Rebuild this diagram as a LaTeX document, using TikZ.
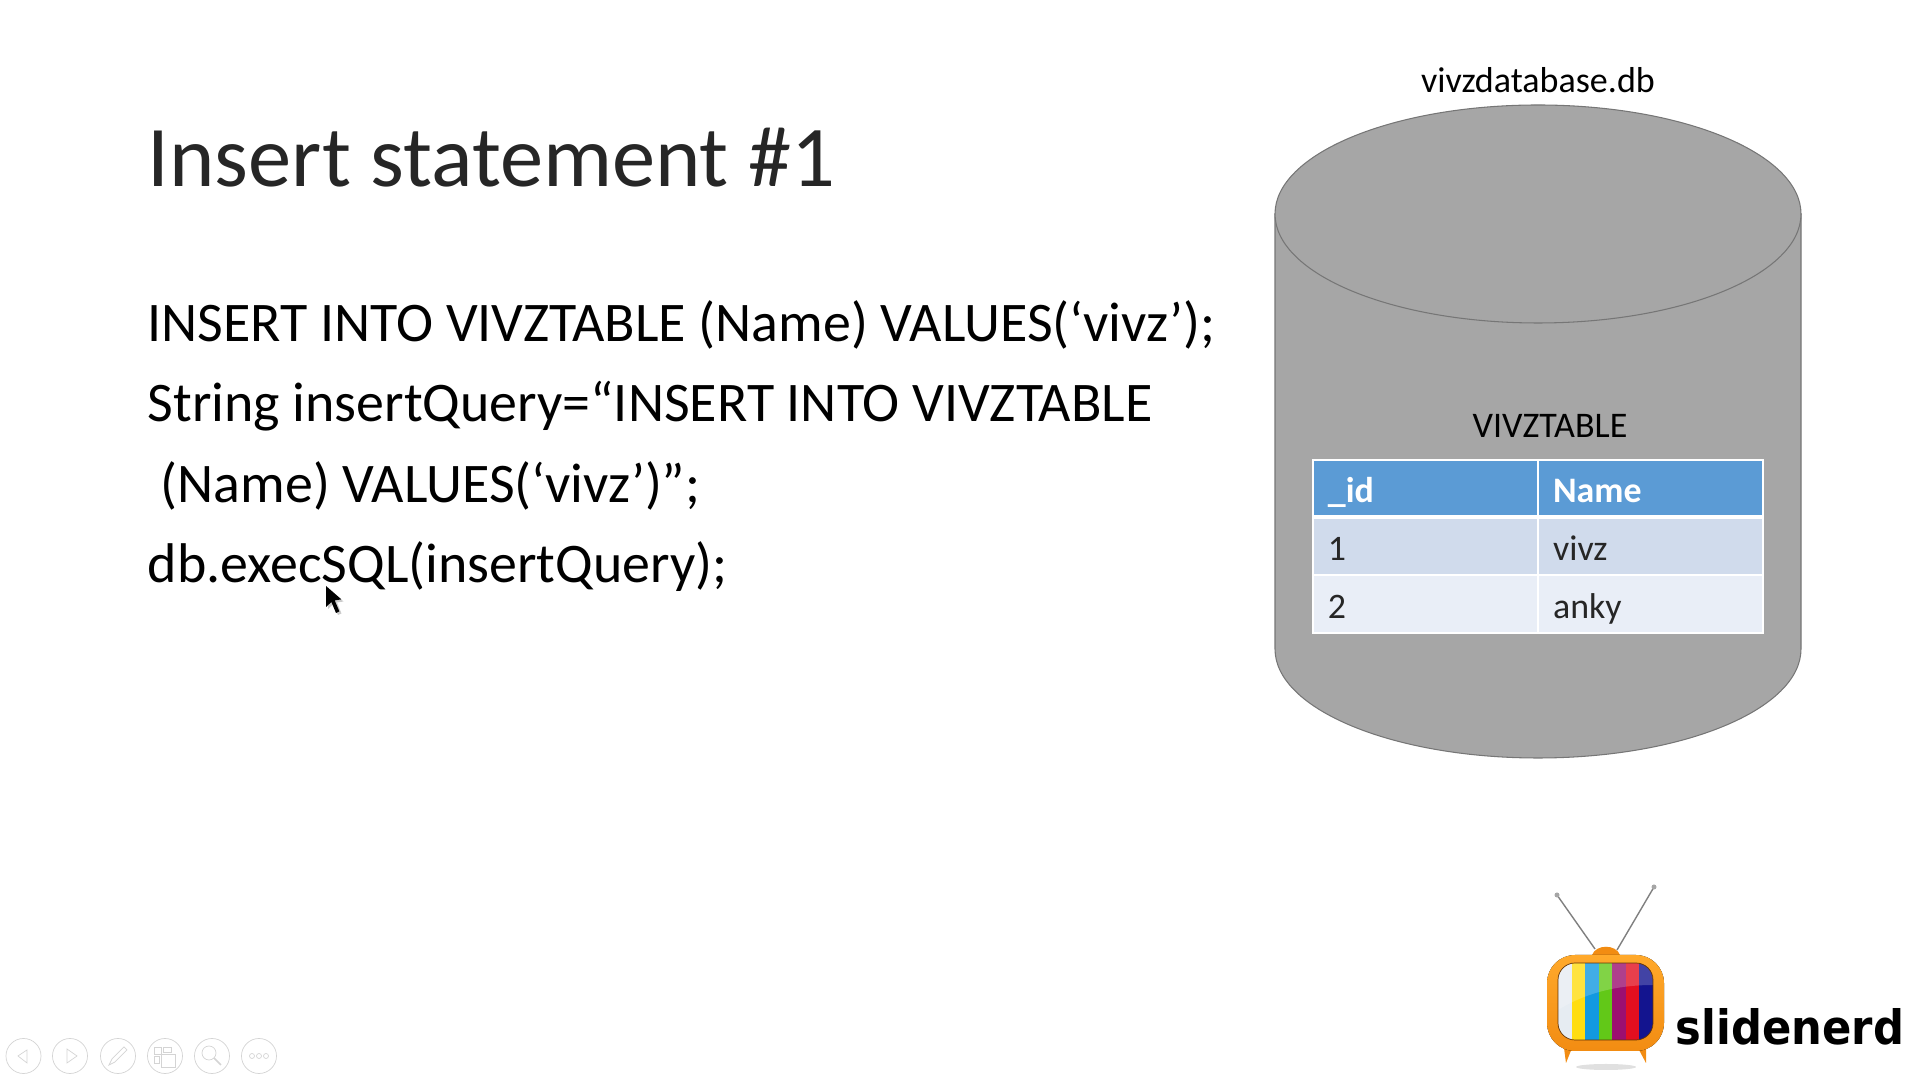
\documentclass[tikz,border=0pt]{standalone}
\usepackage{fontspec}
\setmainfont{Carlito}
\newfontfamily\brandfont{DejaVu Sans}
\definecolor{dbgray}{HTML}{A6A6A6}
\definecolor{dbedge}{HTML}{767676}
\definecolor{headblue}{HTML}{5B9BD5}
\definecolor{rowdark}{HTML}{D0DBEC}
\definecolor{rowlight}{HTML}{E9EEF7}
\definecolor{navgray}{HTML}{D4D4D4}
\definecolor{tvorange}{HTML}{F28C12}
\definecolor{tvtop}{HTML}{FFA92B}
\definecolor{barwhite}{HTML}{E6ECF2}
\definecolor{baryellow}{HTML}{FFDD10}
\definecolor{barblue}{HTML}{1299E0}
\definecolor{bargreen}{HTML}{62C818}
\definecolor{barpurple}{HTML}{9C0F70}
\definecolor{barred}{HTML}{E30F20}
\definecolor{barnavy}{HTML}{13148F}
\begin{document}
\begin{tikzpicture}[
    x=0.01cm, y=-0.01cm,
    title/.style={anchor=base west, inner sep=0pt, text=black!85, font=\fontsize{24.6}{28}\selectfont},
    code/.style={anchor=base west, inner sep=0pt, font=\fontsize{15.9}{19}\selectfont},
    label/.style={inner sep=0pt, font=\fontsize{10.25}{12}\selectfont},
    cell/.style={draw=white, line width=0.5pt, inner sep=0pt, minimum width=2.25cm, minimum height=0.575cm, text width=1.95cm, text height=0.35cm, text depth=0.07cm, align=left, font=\fontsize{10.2}{12}\selectfont, text=black!85},
    headcell/.style={cell, fill=headblue, text=white, font=\fontsize{10.2}{12}\selectfont\bfseries},
    darkcell/.style={cell, fill=rowdark},
    lightcell/.style={cell, fill=rowlight},
    navbutton/.style={circle, draw=navgray, line width=0.2pt, inner sep=0pt, minimum size=0.35cm},
    navicon/.style={draw=navgray, line width=0.2pt},
    stripe/.style={draw=none}
]

    \useasboundingbox (0,0) rectangle (1920,1080);

    % Title
    \node (heading) [title] at (147,187) {Insert statement \#1};

    % Code lines
    \node (lineone) [code] at (147,342) {INSERT INTO VIVZTABLE (Name) VALUES(‘vivz’);};
    \node (linetwo) [code] at (147,422) {String insertQuery=“INSERT INTO VIVZTABLE};
    \node (linethree) [code] at (160,503) {(Name) VALUES(‘vivz’)”;};
    \node (linefour) [code] at (147,583) {db.execSQL(insertQuery);};

    % Mouse cursor
    \fill [black!20] (328,588) -- (328,609) -- (333.5,604) -- (338,615) -- (341.5,613.5) -- (337,602.5) -- (343.5,601.5) -- cycle;
    \fill [black] (326,586) -- (326,607) -- (331.4,602) -- (336,613) -- (339.4,611.4) -- (334.7,600.4) -- (341.4,599.4) -- cycle;

    % Database cylinder
    \draw [fill=dbgray, draw=dbedge, line width=0.3pt] (1275,214) -- (1275,649) arc [start angle=180, end angle=0, x radius=263, y radius=109] -- (1801,214) -- cycle;
    \draw [fill=dbgray, draw=dbedge, line width=0.3pt] (1538,214) ellipse [x radius=263, y radius=109];
    \node (dbname) [label] at (1538,80) {vivzdatabase.db};
    \node (tablename) [label] at (1550,426) {VIVZTABLE};

    % Table
    \node (idhead) [headcell] at (1425.5,489) {\_id};
    \node (namehead) [headcell, right of=idhead, node distance=2.25cm] {Name};
    \node (idone) [darkcell, below of=idhead, node distance=0.575cm] {1};
    \node (nameone) [darkcell, right of=idone, node distance=2.25cm] {vivz};
    \node (idtwo) [lightcell, below of=idone, node distance=0.575cm] {2};
    \node (nametwo) [lightcell, right of=idtwo, node distance=2.25cm] {anky};
    \draw [white, line width=1.1pt] (idone.north west) -- (nameone.north east);

    % Logo antennas
    \draw [gray, line width=0.4pt] (1595,949) -- (1557,895);
    \draw [gray, line width=0.4pt] (1617,950) -- (1654,887);
    \fill [black!35] (1557,895) circle (2.5);
    \fill [black!35] (1654,887) circle (2.5);

    % Logo shadow, feet, handle
    \fill [black!12] (1606,1067) ellipse [x radius=30, y radius=3];
    \fill [tvorange] (1564,1048) -- (1572,1048) -- (1566,1063) -- cycle;
    \fill [tvorange] (1638,1048) -- (1646,1048) -- (1646,1063) -- cycle;
    \fill [tvorange] (1592,955) .. controls (1596,944) and (1616,944) .. (1620,955) -- cycle;

    % Logo set and screen
    \fill [rounded corners=0.28cm, top color=tvtop, bottom color=tvorange] (1547,955) rectangle (1664,1051);
    \begin{scope}
        \clip [rounded corners=0.17cm] (1558,963) rectangle (1653,1040);
        \fill [stripe, fill=barwhite] (1558,963) rectangle (1572,1040);
        \fill [stripe, fill=baryellow] (1571.5,963) rectangle (1585,1040);
        \fill [stripe, fill=barblue] (1585,963) rectangle (1598.5,1040);
        \fill [stripe, fill=bargreen] (1598.5,963) rectangle (1612,1040);
        \fill [stripe, fill=barpurple] (1612,963) rectangle (1625.5,1040);
        \fill [stripe, fill=barred] (1625.5,963) rectangle (1639,1040);
        \fill [stripe, fill=barnavy] (1639,963) rectangle (1653,1040);
        \fill [white, opacity=0.2] (1558,963) -- (1653,963) -- (1653,985) .. controls (1625,985) and (1590,990) .. (1558,1010) -- cycle;
    \end{scope}
    \draw [black!60!orange, line width=0.2pt, rounded corners=0.17cm] (1558,963) rectangle (1653,1040);

    % Logo word
    \node (brand) [inner sep=0pt] at (1790,1027) {\resizebox{2.28cm}{0.36cm}{\brandfont\bfseries slidenerd}};

    % Slide show buttons
    \node (btnback) [navbutton] at (23.5,1056) {};
    \node (btnnext) [navbutton] at (70,1056) {};
    \node (btnpen) [navbutton] at (118,1056) {};
    \node (btnpages) [navbutton] at (165,1056) {};
    \node (btnzoom) [navbutton] at (212,1056) {};
    \node (btnmore) [navbutton] at (259,1056) {};
    \draw [navicon] (27,1050) -- (18,1056) -- (27,1063) -- cycle;
    \draw [navicon] (67,1049) -- (77,1056) -- (67,1063) -- cycle;
    \draw [navicon] (109,1065) -- (112,1059) -- (124,1047) -- (127,1050) -- (115,1062) -- cycle;
    \draw [navicon] (154,1047) rectangle (161,1054);
    \draw [navicon] (163,1047) rectangle (171,1052);
    \draw [navicon] (154,1056) rectangle (159,1063);
    \draw [navicon] (161,1054) rectangle (175,1067);
    \draw [navicon] (209,1053) circle (7);
    \draw [navicon, line width=0.45pt] (214,1058) -- (221,1065);
    \draw [navicon] (252,1056) circle (2.5);
    \draw [navicon] (259,1056) circle (2.5);
    \draw [navicon] (266,1056) circle (2.5);

\end{tikzpicture}
\end{document}
